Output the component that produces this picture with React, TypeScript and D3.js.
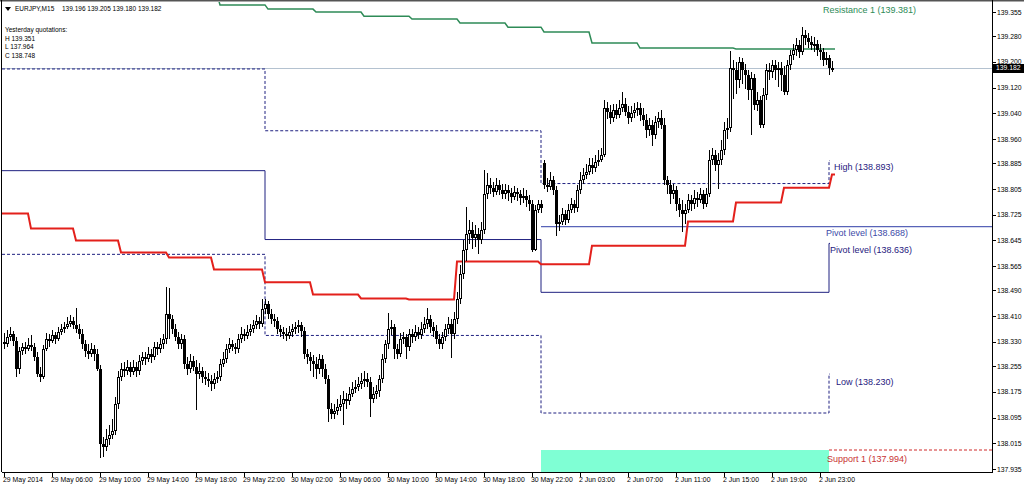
import React from "react";
import * as d3 from "d3";

// ---------- data ----------
const closes = [
  138.322,138.344,138.354,138.332,138.245,138.301,138.313,138.307,138.319,138.313,
  138.282,138.230,138.220,138.307,138.338,138.332,138.350,138.338,138.360,138.369,
  138.375,138.385,138.394,138.381,138.369,138.354,138.322,138.301,138.292,138.307,
  138.292,138.245,138.013,138.003,138.028,138.040,138.053,138.137,138.220,138.245,
  138.239,138.251,138.236,138.251,138.239,138.270,138.282,138.276,138.292,138.282,
  138.313,138.307,138.322,138.338,138.416,138.400,138.369,138.344,138.322,138.338,
  138.261,138.245,138.270,138.251,138.230,138.239,138.220,138.214,138.208,138.199,
  138.214,138.220,138.261,138.276,138.307,138.322,138.313,138.307,138.338,138.354,
  138.347,138.360,138.369,138.381,138.394,138.385,138.431,138.447,138.416,138.400,
  138.394,138.369,138.360,138.354,138.347,138.360,138.369,138.375,138.381,138.363,
  138.292,138.282,138.270,138.261,138.245,138.276,138.245,138.214,138.121,138.106,
  138.115,138.127,138.137,138.152,138.146,138.168,138.183,138.189,138.199,138.208,
  138.214,138.205,138.152,138.168,138.177,138.214,138.276,138.322,138.369,138.375,
  138.307,138.292,138.338,138.344,138.313,138.354,138.344,138.360,138.350,138.369,
  138.385,138.400,138.375,138.363,138.338,138.322,138.344,138.369,138.385,138.354,
  138.400,138.462,138.540,138.617,138.664,138.679,138.654,138.664,138.648,138.679,
  138.788,138.819,138.809,138.797,138.819,138.803,138.788,138.803,138.794,138.781,
  138.797,138.788,138.778,138.784,138.772,138.757,138.617,138.741,138.757,138.747,
  138.819,138.812,138.834,138.803,138.695,138.704,138.726,138.710,138.741,138.757,
  138.747,138.803,138.834,138.850,138.859,138.881,138.871,138.890,138.896,138.912,
  139.057,139.045,139.026,139.051,139.036,139.057,139.070,139.045,139.026,139.042,
  139.051,139.057,139.036,139.020,138.989,139.005,138.974,139.014,139.026,139.005,
  138.834,138.819,138.788,138.803,138.757,138.741,138.726,138.741,138.772,138.757,
  138.778,138.772,138.788,138.757,138.788,138.896,138.912,138.881,138.896,138.927,
  138.989,138.995,139.181,139.175,139.144,139.200,139.175,139.160,139.113,139.150,
  139.067,139.082,139.005,139.098,139.175,139.169,139.191,139.175,139.181,139.160,
  139.107,139.191,139.222,139.237,139.253,139.231,139.284,139.274,139.262,139.253,
  139.256,139.237,139.231,139.206,139.212,139.181,139.182,
];

// wick lengths in points (0.001 JPY)
const upperWicks = [
  30,24,21,9,12,12,15,18,24,33, 12,18,21,12,21,15,18,12,15,15,
  18,21,18,12,54,15,15,15,21,18, 12,15,12,21,30,33,36,21,18,18,
  24,24,18,24,15,18,18,15,21,15, 18,18,21,15,84,81,15,15,18,15,
  12,21,21,15,24,24,12,18,18,18, 18,18,15,24,15,21,15,15,15,21,
  15,21,18,18,18,12,33,15,9,15, 18,12,12,15,18,18,18,18,18,12,
  12,15,18,18,21,15,12,15,12,18, 21,24,27,24,18,21,21,24,21,24,
  24,18,15,21,18,12,15,15,51,24, 12,15,21,18,12,15,15,21,15,24,
  21,36,15,18,18,15,18,15,21,15, 24,24,30,30,84,30,24,30,21,24,
  75,36,21,18,21,15,18,18,15,15, 18,12,15,24,18,15,15,15,15,15,
  9,21,24,12,12,21,21,15,18,21, 15,15,24,21,24,21,21,21,30,21,
  24,18,21,18,18,24,36,18,18,21, 21,18,15,21,18,21,15,18,18,24,
  21,12,15,18,12,21,30,18,18,15, 24,18,21,15,21,30,21,15,21,30,
  24,30,54,24,24,15,12,18,15,18, 12,24,12,21,18,21,15,15,18,18,
  27,15,15,18,21,15,24,15,15,18, 21,12,18,12,18,9,21,
];
const lowerWicks = [
  15,9,12,15,24,15,12,15,6,12, 12,9,15,6,6,18,6,15,6,9,
  12,6,9,12,12,15,15,18,15,9, 21,6,45,30,12,18,12,12,15,12,
  18,12,15,9,18,12,12,18,9,18, 9,18,12,15,15,60,15,12,15,15,
  15,18,12,12,111,15,18,18,18,21, 15,12,12,9,12,12,12,15,12,12,
  15,9,12,12,12,15,9,15,15,15, 18,15,15,15,15,9,15,15,18,18,
  15,21,30,39,30,15,24,15,39,15, 15,12,12,66,24,12,9,12,12,15,
  18,15,54,12,15,18,12,12,15,18, 30,15,9,15,36,12,18,12,12,12,
  12,15,18,18,15,15,15,12,15,75, 15,15,15,15,36,30,36,30,45,15,
  15,15,21,18,12,18,15,15,27,21, 9,21,24,18,24,21,9,6,12,18,
  15,15,9,18,36,21,12,18,12,12, 18,12,12,12,15,12,18,12,12,6,
  9,24,18,12,15,9,12,12,18,12, 15,18,21,18,24,18,36,15,18,15,
  15,30,30,15,21,24,54,30,12,21, 15,24,12,15,9,9,15,21,75,15,
  15,30,12,90,45,24,45,45,30,141, 15,21,9,9,15,24,18,30,54,51,
  9,9,15,15,18,18,9,21,18,15, 21,18,24,18,15,21,12,
];
const firstOpen = 138.329;
const weekOpenIndex = 180;
const weekOpen = 138.887;

const priceTicks = [139.355,139.280,139.200,139.120,139.040,138.960,138.885,138.805,138.725,138.645,
  138.565,138.490,138.410,138.330,138.255,138.175,138.095,138.015,137.935];
const timeTickIndex = [0,16,32,48,64,80,96,112,128,144,160,176,192,208,224,240,256,272];
const timeTickLabels = ["29 May 2014","29 May 06:00","29 May 10:00","29 May 14:00","29 May 18:00","29 May 22:00",
  "30 May 02:00","30 May 06:00","30 May 10:00","30 May 14:00","30 May 18:00","30 May 22:00",
  "2 Jun 03:00","2 Jun 07:00","2 Jun 11:00","2 Jun 15:00","2 Jun 19:00","2 Jun 23:00"];

const dayStarts = [0, 88, 180, 276];
const dayHigh = [139.178, 138.986, 138.822, 138.893];
const dayPivot = [138.862, 138.648, 138.484, 138.636];
const dayLow = [138.602, 138.350, 138.109, 138.230];

const redStarts = [0, 9, 24, 39, 55, 70, 87, 103, 119, 135, 151, 179, 196, 228, 244, 260, 276];
const redValues = [138.729,138.682,138.645,138.608,138.592,138.555,138.515,138.477,138.465,138.462,
  138.580,138.571,138.629,138.704,138.763,138.809,138.850];

const greenStarts = [56, 72, 88, 104, 120, 136, 152, 168, 180, 196, 212, 228, 244, 260];
const greenValues = [139.411,139.377,139.364,139.355,139.342,139.333,139.321,139.308,139.293,139.259,
  139.243,139.243,139.240,139.240];

const pivotNow = 138.688;
const support1 = 137.994;
const resistance1 = 139.381;
const lastPrice = 139.182;
const symbolName = "EURJPY,M15";
const symbolQuotes = "139.196 139.205 139.180 139.182";
const yesterdayLines = ["Yesterday quotations:", "H 139.351", "L 137.964", "C 138.748"];

// ---------- component ----------
const FONT = "'Liberation Sans', Arial, sans-serif";

export default function App() {
  const left = 2, right = 992, top = 2, bottom = 472;
  const x = d3.scaleLinear().domain([0, 1]).range([4, 7]);
  const y = d3.scaleLinear().domain([137.935, 139.355]).range([469, 12]);
  const line = d3.line<[number, number]>().x((d) => d[0]).y((d) => d[1]);

  const candles = closes.map((c, i) => {
    const o = i === 0 ? firstOpen : i === weekOpenIndex ? weekOpen : closes[i - 1];
    const hi = Math.max(o, c) + upperWicks[i] / 1000;
    const lo = Math.min(o, c) - lowerWicks[i] / 1000;
    return { i, o, c, hi, lo };
  });

  const dayPath = (vals: number[]) => {
    const pts: [number, number][] = [];
    vals.forEach((v, k) => {
      const sx = k === 0 ? left : x(dayStarts[k] - 1);
      pts.push([sx, y(v)]);
      if (k < vals.length - 1) pts.push([x(dayStarts[k + 1] - 1), y(v)]);
      else pts.push([sx + 1, y(v)]);
    });
    return line(pts) || "";
  };

  const blockPath = (starts: number[], vals: number[], endIdx: number, firstX?: number) => {
    const pts: [number, number][] = [];
    starts.forEach((s, k) => {
      const sx = k === 0 && firstX !== undefined ? firstX : x(s);
      const ex = k < starts.length - 1 ? x(starts[k + 1] - 1) : x(endIdx);
      pts.push([sx, y(vals[k])]);
      pts.push([ex, y(vals[k])]);
    });
    return line(pts) || "";
  };

  const navy = "#1f2080";
  const boundaryX = x(dayStarts[2] - 1);
  const nowX = x(dayStarts[3] - 1);

  return (
    <svg width={1024} height={486} style={{ position: "absolute", left: 0, top: 0, background: "#fff" }}
      fontFamily={FONT}>
      <defs>
        <clipPath id="plot"><rect x={left} y={top} width={right - left} height={bottom - top} /></clipPath>
      </defs>
      <rect x={0} y={0} width={1024} height={486} fill="#fff" />

      <g clipPath="url(#plot)">
        {/* support 1 zone */}
        <rect x={boundaryX} y={y(support1)} width={nowX - boundaryX} height={bottom - y(support1)} fill="#7fffd4" />
        <line x1={nowX} x2={right} y1={y(support1)} y2={y(support1)} stroke="#d02a2a" strokeDasharray="3,2" />
        {/* current price line */}
        <line x1={left} x2={right} y1={Math.round(y(lastPrice)) + 0.5} y2={Math.round(y(lastPrice)) + 0.5} stroke="#b4c2d0" />
        {/* pivot level now */}
        <line x1={boundaryX} x2={right} y1={y(pivotNow)} y2={y(pivotNow)} stroke="#5863b8" strokeWidth={1.2} />

        {/* daily levels */}
        <path d={dayPath(dayHigh)} fill="none" stroke={navy} strokeDasharray="3,2" />
        <path d={dayPath(dayLow)} fill="none" stroke={navy} strokeDasharray="3,2" />
        <path d={dayPath(dayPivot)} fill="none" stroke={navy} strokeWidth={1} />

        {/* red support track */}
        <path d={blockPath(redStarts, redValues, 277, left)} fill="none" stroke="#e3201b" strokeWidth={2} />
        {/* green resistance track */}
        <path d={blockPath(greenStarts, greenValues, 277)} fill="none" stroke="#2e8b57" strokeWidth={1.5} />

        {/* candles */}
        <g shapeRendering="crispEdges">
          {candles.map((d) => {
            const cx = Math.round(x(d.i));
            const yh = Math.round(y(d.hi));
            const yl = Math.round(y(d.lo));
            const yo = Math.round(y(d.o));
            const yc = Math.round(y(d.c));
            const bull = d.c >= d.o;
            return (
              <g key={d.i}>
                <rect x={cx} y={yh} width={1} height={Math.max(1, yl - yh)} fill="#000" />
                {bull ? (
                  <rect x={cx - 0.5} y={yc + 0.5} width={2} height={Math.max(1, yo - yc - 1)} fill="#fff" stroke="#000" />
                ) : (
                  <rect x={cx - 1} y={yo} width={3} height={Math.max(1, yc - yo)} fill="#000" />
                )}
              </g>
            );
          })}
        </g>
      </g>

      {/* frame */}
      <rect x={0} y={0} width={1024} height={1.5} fill="#555" />
      <line x1={left - 0.5} x2={left - 0.5} y1={0} y2={bottom} stroke="#000" />
      <line x1={left} x2={right} y1={bottom + 0.5} y2={bottom + 0.5} stroke="#000" />
      <line x1={right + 0.5} x2={right + 0.5} y1={0} y2={bottom + 1} stroke="#000" />

      {/* level labels */}
      <text x={823} y={13} fontSize={9} fill="#2e8b57">{`Resistance 1 (${resistance1.toFixed(3)})`}</text>
      <text x={834} y={170} fontSize={9} fill={navy}>{`High (${dayHigh[3].toFixed(3)})`}</text>
      <text x={826} y={236} fontSize={9} fill="#3d4aa8">{`Pivot level (${pivotNow.toFixed(3)})`}</text>
      <text x={830} y={253} fontSize={9} fill={navy}>{`Pivot level (${dayPivot[3].toFixed(3)})`}</text>
      <text x={836} y={385} fontSize={9} fill={navy}>{`Low (${dayLow[3].toFixed(3)})`}</text>
      <text x={827} y={462} fontSize={9} fill="#c83232">{`Support 1 (${support1.toFixed(3)})`}</text>

      {/* top-left info */}
      <path d="M5,7 L11,7 L8,11 Z" fill="#000" />
      <text x={15} y={11} fontSize={6.5} fill="#000">{symbolName}</text>
      <text x={62} y={11} fontSize={6.5} fill="#000">{symbolQuotes}</text>
      {yesterdayLines.map((t, k) => (
        <text key={t} x={5} y={32 + k * 8.5} fontSize={6.5} fill="#000">{t}</text>
      ))}

      {/* price axis */}
      {priceTicks.map((v) => (
        <g key={v}>
          <line x1={right + 1} x2={right + 4} y1={Math.round(y(v)) + 0.5} y2={Math.round(y(v)) + 0.5} stroke="#000" />
          <text x={997} y={y(v) + 2.5} fontSize={6.8} fill="#000">{v.toFixed(3)}</text>
        </g>
      ))}
      <rect x={993} y={Math.round(y(lastPrice)) - 4} width={31} height={9} fill="#000" />
      <text x={996} y={y(lastPrice) + 2.8} fontSize={6.8} fill="#fff">{lastPrice.toFixed(3)}</text>

      {/* time axis */}
      {timeTickIndex.map((ti, k) => (
        <g key={ti}>
          <line x1={Math.round(x(ti)) + 0.5} x2={Math.round(x(ti)) + 0.5} y1={bottom + 1} y2={bottom + 5} stroke="#000" />
          <text x={x(ti) - 1} y={482} fontSize={6.9} fill="#000">{timeTickLabels[k]}</text>
        </g>
      ))}
    </svg>
  );
}
